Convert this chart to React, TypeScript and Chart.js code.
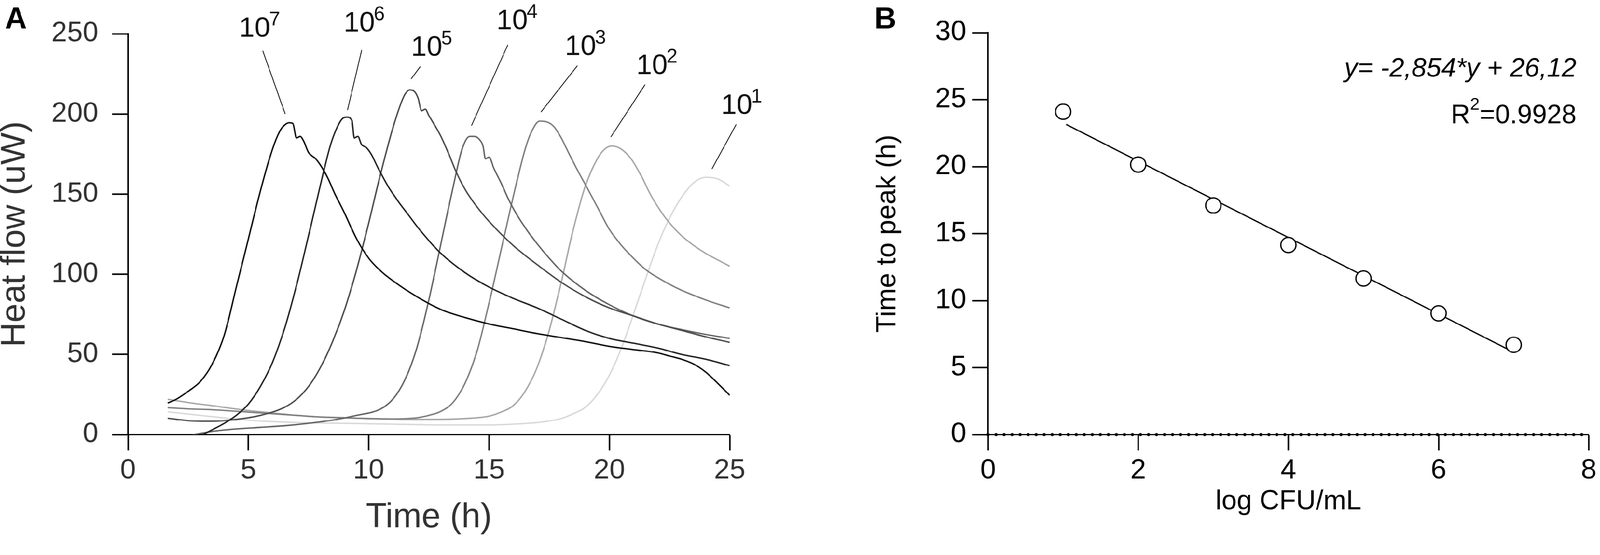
import { useEffect, useRef, useState } from "react";
import { Chart, registerables } from "chart.js";

Chart.register(...registerables);

const FONT = "'Liberation Sans', Arial, Helvetica, sans-serif";
const PAGE_W = 4212;
const PAGE_H = 1422;

// ---- Panel A: heat flow curves, one per inoculum ----
const exponents = [7, 6, 5, 4, 3, 2, 1];

const time7 = [1.65, 2.0, 2.5, 3.0, 3.5, 4.0, 4.5, 5.0, 5.5, 6.0, 6.3, 6.5, 6.7, 6.85, 7.0, 7.15, 7.3, 7.5, 7.8, 8.0, 8.3, 8.6, 9.0, 9.5, 10, 10.5, 11, 12, 13, 14, 15, 16, 17, 18, 19, 20, 21, 22, 22.5, 23, 23.5, 24, 24.5, 25];
const flow7 = [19.7, 22, 27, 33, 44, 62, 92, 122, 152, 178, 189, 193, 194.5, 194, 185, 186, 183, 176, 172, 168, 160, 150, 138, 122, 110, 102, 96, 86, 78, 73, 69, 66, 63, 60.5, 58, 55, 53, 51, 49, 47, 44, 39, 32, 24.5];

const time6 = [3.1, 3.5, 4.0, 4.5, 5.0, 5.5, 6.0, 6.5, 7.0, 7.5, 8.0, 8.4, 8.7, 8.9, 9.1, 9.3, 9.4, 9.55, 9.7, 9.9, 10.1, 10.4, 10.8, 11.2, 11.6, 12, 12.5, 13, 14, 15, 16, 17, 18, 19, 20, 21, 22, 23, 24, 25];
const flow6 = [0, 3, 7, 12, 19, 30, 45, 66, 93, 124, 156, 180, 192, 197, 198, 196, 185, 186, 181, 179, 175, 166, 155, 146, 138, 130, 121, 113, 101, 92, 85, 79, 72, 65, 60, 57, 54, 50, 47, 43];

const time5 = [1.65, 2.5, 3.5, 4.5, 5.5, 6.5, 7.0, 7.5, 8.0, 8.5, 9.0, 9.5, 10.0, 10.5, 11.0, 11.3, 11.5, 11.7, 11.9, 12.05, 12.2, 12.35, 12.5, 12.7, 13.0, 13.3, 13.6, 14.0, 14.5, 15, 16, 17, 18, 19, 20, 21, 22, 23, 24, 25];
const flow5 = [10.2, 8.7, 8.3, 9.5, 12, 17, 22, 30, 42, 58, 78, 103, 132, 163, 191, 205, 212, 215, 214, 210, 202, 203, 199, 194, 186, 176, 165, 153, 142, 133, 118, 106, 95, 86, 79, 74, 69, 65, 61, 57.5];

const time4 = [2.7, 3.5, 4.5, 5.5, 6.5, 7.5, 8.5, 9.5, 10.5, 11.0, 11.5, 12.0, 12.5, 13.0, 13.5, 13.9, 14.2, 14.4, 14.6, 14.75, 14.85, 15.0, 15.2, 15.5, 15.8, 16.2, 16.6, 17, 17.5, 18, 19, 20, 21, 22, 23, 24, 25];
const flow4 = [0, 2, 3.5, 4.5, 5.5, 7, 9, 12, 16, 22, 34, 54, 84, 119, 154, 179, 186, 186, 184, 180, 172, 173, 166, 157, 147, 136, 127, 119, 110, 102, 90, 81, 74, 69, 65.5, 62.5, 60];

const time3 = [1.65, 2.5, 3.5, 5, 6, 7, 8, 9, 10, 11, 12, 12.5, 13, 13.5, 14, 14.5, 15, 15.5, 16, 16.5, 16.8, 17.1, 17.4, 17.7, 18.0, 18.3, 18.6, 19, 19.5, 20, 20.5, 21, 21.5, 22, 23, 24, 25];
const flow3 = [16.8, 16, 15.5, 14, 13, 12, 11, 10.5, 10, 9.8, 10.5, 12, 14.5, 20, 32, 52, 82, 115, 148, 178, 190, 195.5, 195, 192, 185, 176, 167, 156, 142, 128, 118, 110, 103, 98, 90, 84, 79];

const time2 = [1.65, 2.5, 3.5, 5, 6, 7, 8, 9, 10, 11, 12, 13, 14, 15, 15.5, 16, 16.5, 17, 17.5, 18, 18.5, 19, 19.5, 19.8, 20.1, 20.5, 20.9, 21.3, 21.7, 22.1, 22.5, 23, 23.5, 24, 24.5, 25];
const flow2 = [22, 20, 18, 15, 13.5, 12, 11, 10.5, 10, 9.7, 9.5, 9.5, 10, 11.5, 14, 18, 27, 42, 65, 95, 128, 155, 172, 178, 180, 178, 172, 162, 150, 140, 132, 124, 118, 113, 109, 105];

const time1 = [1.65, 3, 5, 7, 9, 11, 13, 15, 16, 17, 17.5, 18, 18.5, 19, 19.5, 20, 20.5, 21, 21.5, 22, 22.5, 23, 23.5, 24, 24.5, 25];
const flow1 = [14.2, 12, 9, 7.5, 7, 6.5, 6, 6, 6.5, 7.5, 8.5, 10, 13, 17, 25, 37, 54, 75, 97, 118, 135, 148, 157, 160.5, 159.5, 155];

const curveTimes = [time7, time6, time5, time4, time3, time2, time1];
const curveFlows = [flow7, flow6, flow5, flow4, flow3, flow2, flow1];
const curveColors = ["#111111", "#262626", "#4d4d4d", "#666666", "#808080", "#a8a8a8", "#d9d9d9"];

// curve labels ("10^n") and their leader lines, in data units
const labelX = [4.61, 8.96, 11.76, 15.31, 18.15, 21.12, 24.64];
const labelY = [248.1, 251.4, 236.3, 252.8, 236.7, 224.9, 200];
const leaderTopX = [5.6, 9.71, 12.15, 15.78, 18.67, 21.48, 25.27];
const leaderTopY = [239.3, 239.8, 229.6, 243.1, 230.1, 218.3, 193.5];
const leaderEndX = [6.53, 9.12, 11.76, 14.27, 17.16, 20.06, 24.26];
const leaderEndY = [200, 202.4, 221.8, 192.7, 201.2, 185.6, 165.7];

// ---- Panel B: time to peak vs inoculum ----
const logCfu = [1, 2, 3, 4, 5, 6, 7];
const timeToPeak = [24.1, 20.15, 17.1, 14.15, 11.65, 9.05, 6.7];
const fitX = [1.04, 6.96];
const fitY = [23.15, 6.26];
const zeroX = [0, 8];
const zeroY = [0, 0];

const toPoints = (xs: number[], ys: number[]) => xs.map((x, i) => ({ x, y: ys[i] }));

function axisStyle(color: string) {
  return {
    grid: {
      display: true,
      drawOnChartArea: false,
      drawTicks: true,
      tickLength: 42,
      tickWidth: 4,
      tickColor: "#000",
    },
    border: { display: true, color: "#000", width: 4 },
    ticks: { color, font: { family: FONT, size: 74 } },
  };
}

function HeatFlowChart() {
  const canvasRef = useRef<HTMLCanvasElement | null>(null);
  const chartRef = useRef<Chart | null>(null);

  useEffect(() => {
    const canvas = canvasRef.current;
    if (!canvas) return;

    const labelsPlugin = {
      id: "curveLabels",
      afterDraw(chart: any) {
        const { ctx, scales } = chart;
        ctx.save();
        ctx.fillStyle = "#000";
        ctx.textBaseline = "alphabetic";
        ctx.textAlign = "left";
        ctx.font = `bold 80px ${FONT}`;
        ctx.fillText("A", 13, 75);
        exponents.forEach((e, i) => {
          const px = scales.x.getPixelForValue(labelX[i]);
          const py = scales.y.getPixelForValue(labelY[i]);
          ctx.fillStyle = "#111";
          ctx.font = `74px ${FONT}`;
          ctx.fillText("10", px, py);
          const w = ctx.measureText("10").width;
          ctx.font = `52px ${FONT}`;
          ctx.fillText(String(e), px + w - 3, py - 30);
        });
        ctx.restore();
      },
    };

    const curveSets = curveTimes.map((times, i) => ({
      label: `10^${exponents[i]}`,
      data: toPoints(times, curveFlows[i]),
      borderColor: curveColors[i],
      borderWidth: 3.8,
      pointRadius: 0,
      cubicInterpolationMode: "monotone" as const,
    }));
    const leaderSets = exponents.map((e, i) => ({
      label: `leader ${e}`,
      data: toPoints([leaderTopX[i], leaderEndX[i]], [leaderTopY[i], leaderEndY[i]]),
      borderColor: "#000",
      borderWidth: 2,
      pointRadius: 0,
      clip: false as const,
    }));

    const base = axisStyle("#333");
    chartRef.current?.destroy();
    chartRef.current = new Chart(canvas, {
      type: "line",
      data: { datasets: [...curveSets, ...leaderSets] as any },
      options: {
        animation: false,
        responsive: false,
        devicePixelRatio: 1,
        layout: { padding: { left: 0, top: 89, right: 279, bottom: 0 } },
        plugins: { legend: { display: false }, tooltip: { enabled: false } },
        scales: {
          x: {
            type: "linear",
            min: 0,
            max: 25,
            afterFit: (s: any) => {
              s.height = 277;
            },
            grid: base.grid,
            border: base.border,
            ticks: { ...base.ticks, stepSize: 5, padding: 9 },
            title: {
              display: true,
              text: "Time (h)",
              color: "#333",
              font: { family: FONT, size: 90, lineHeight: 1 },
              padding: { top: 0, bottom: 13 },
            },
          },
          y: {
            type: "linear",
            min: 0,
            max: 250,
            afterFit: (s: any) => {
              s.width = 337;
            },
            grid: base.grid,
            border: base.border,
            ticks: { ...base.ticks, stepSize: 50, padding: 36 },
            title: {
              display: true,
              text: "Heat flow (uW)",
              color: "#333",
              font: { family: FONT, size: 90, lineHeight: 1 },
              padding: { top: -5, bottom: 0 },
            },
          },
        },
      },
      plugins: [labelsPlugin],
    });

    return () => {
      chartRef.current?.destroy();
      chartRef.current = null;
    };
  }, []);

  return (
    <canvas
      ref={canvasRef}
      width={2200}
      height={1422}
      style={{ position: "absolute", left: 0, top: 0 }}
    />
  );
}

function TimeToPeakChart() {
  const canvasRef = useRef<HTMLCanvasElement | null>(null);
  const chartRef = useRef<Chart | null>(null);

  useEffect(() => {
    const canvas = canvasRef.current;
    if (!canvas) return;

    const textPlugin = {
      id: "fitText",
      afterDraw(chart: any) {
        const { ctx } = chart;
        ctx.save();
        ctx.fillStyle = "#000";
        ctx.textBaseline = "alphabetic";
        ctx.textAlign = "left";
        ctx.font = `bold 80px ${FONT}`;
        ctx.fillText("B", 102, 75);

        const right = 1950;
        ctx.textAlign = "right";
        ctx.font = `italic 70px ${FONT}`;
        ctx.fillText("y= -2,854*y + 26,12", right, 202);

        ctx.textAlign = "left";
        ctx.font = `70px ${FONT}`;
        const tail = "=0.9928";
        const wR = ctx.measureText("R").width;
        const wTail = ctx.measureText(tail).width;
        ctx.font = `45px ${FONT}`;
        const wSup = ctx.measureText("2").width;
        const start = right - wR - wSup - wTail;
        ctx.font = `70px ${FONT}`;
        ctx.fillText("R", start, 325);
        ctx.fillText(tail, start + wR + wSup, 325);
        ctx.font = `45px ${FONT}`;
        ctx.fillText("2", start + wR, 289);
        ctx.restore();
      },
    };

    const base = axisStyle("#000");
    chartRef.current?.destroy();
    chartRef.current = new Chart(canvas, {
      type: "line",
      data: {
        datasets: [
          {
            label: "Time to peak",
            data: toPoints(logCfu, timeToPeak),
            showLine: false,
            pointRadius: 20,
            pointBorderWidth: 3.5,
            pointBackgroundColor: "#fff",
            pointBorderColor: "#000",
          },
          {
            label: "Fit",
            data: toPoints(fitX, fitY),
            borderColor: "#000",
            borderWidth: 3.5,
            pointRadius: 0,
          },
          {
            label: "Zero",
            data: toPoints(zeroX, zeroY),
            borderColor: "#000",
            borderWidth: 9,
            borderDash: [0, 21.12],
            borderCapStyle: "round",
            pointRadius: 0,
            clip: false,
          },
        ] as any,
      },
      options: {
        animation: false,
        responsive: false,
        devicePixelRatio: 1,
        layout: { padding: { left: 0, top: 86, right: 27, bottom: 0 } },
        plugins: { legend: { display: false }, tooltip: { enabled: false } },
        scales: {
          x: {
            type: "linear",
            min: 0,
            max: 8,
            afterFit: (s: any) => {
              s.height = 277;
            },
            grid: base.grid,
            border: base.border,
            ticks: { ...base.ticks, stepSize: 2, padding: 9 },
            title: {
              display: true,
              text: "log CFU/mL",
              color: "#000",
              font: { family: FONT, size: 72, lineHeight: 1 },
              padding: { top: 0, bottom: 64 },
            },
          },
          y: {
            type: "linear",
            min: 0,
            max: 30,
            afterFit: (s: any) => {
              s.width = 401;
            },
            grid: base.grid,
            border: base.border,
            ticks: { ...base.ticks, stepSize: 5, padding: 15 },
            title: {
              display: true,
              text: "Time to peak (h)",
              color: "#000",
              font: { family: FONT, size: 72, lineHeight: 1 },
              padding: { top: 101, bottom: 0 },
            },
          },
        },
      },
      plugins: [textPlugin],
    });

    return () => {
      chartRef.current?.destroy();
      chartRef.current = null;
    };
  }, []);

  return (
    <canvas
      ref={canvasRef}
      width={2012}
      height={1422}
      style={{ position: "absolute", left: 2200, top: 0 }}
    />
  );
}

export default function App() {
  const [fit, setFit] = useState(1);

  useEffect(() => {
    document.body.style.margin = "0";
    const w = document.documentElement.clientWidth || window.innerWidth;
    const h = document.documentElement.clientHeight || window.innerHeight;
    setFit(Math.min(1, w / PAGE_W, h / PAGE_H));
  }, []);

  return (
    <div style={{ width: "100vw", height: "100vh", overflow: "hidden", background: "#fff" }}>
      <div
        style={{
          position: "relative",
          width: PAGE_W,
          height: PAGE_H,
          transform: `scale(${fit})`,
          transformOrigin: "0 0",
        }}
      >
        <HeatFlowChart />
        <TimeToPeakChart />
      </div>
    </div>
  );
}
